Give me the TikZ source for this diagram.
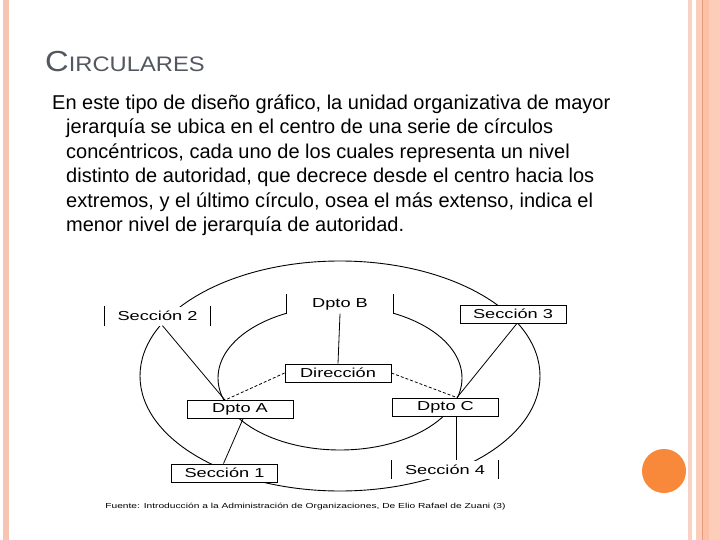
\documentclass[tikz,border=0pt]{standalone}
\usepackage{fontspec}
\setmainfont{Liberation Sans}
\newfontfamily\orgfont[FakeStretch=1.4]{Liberation Sans}
\newfontfamily\titfont[FakeStretch=1.13]{Liberation Sans}
\usetikzlibrary{positioning}

\definecolor{franja}{HTML}{F7C4B2}
\definecolor{franjaclara}{HTML}{F9D2C3}
\definecolor{melocoton}{HTML}{FCCDB9}
\definecolor{melocotonb}{HTML}{FDBFA6}
\definecolor{lineaoscura}{HTML}{E39E80}
\definecolor{naranja}{HTML}{F8883A}
\definecolor{titulo}{HTML}{53575F}

\begin{document}
\begin{tikzpicture}[x=1pt,y=-1pt,
    caja/.style={draw, fill=white, line width=0.8pt, inner sep=0pt,
        minimum width=106pt, minimum height=18pt,
        font=\orgfont\fontsize{13}{13}\selectfont},
    corchete/.style={fill=white, inner sep=0pt,
        minimum width=106pt, minimum height=19pt,
        font=\orgfont\fontsize{13}{13}\selectfont},
    enlace/.style={line width=0.8pt},
    punteado/.style={line width=0.8pt, dash pattern=on 3pt off 2pt},
    anillo/.style={line width=0.9pt}]

    \useasboundingbox (0,0) rectangle (720,540);
    \fill[white] (0,0) rectangle (720,540);

    % franjas de los bordes
    \fill[franja] (3,0) rectangle (9,540);
    \fill[franjaclara] (688,0) rectangle (692,540);
    \fill[melocoton] (696,0) rectangle (720,540);
    \fill[melocotonb] (703,0) rectangle (709,540);
    \fill[lineaoscura] (701.8,0) rectangle (703,540);
    \fill[naranja] (664,471) circle (22);

    % titulo y texto
    \node[anchor=base west, text=titulo, inner sep=0pt, font=\titfont] (titulo) at (45,72)
        {\fontsize{29}{29}\selectfont C\fontsize{21}{21}\selectfont IRCULARES};
    \node[anchor=north west, align=left, inner sep=0pt,
        font=\fontsize{20}{24.5}\selectfont] (texto) at (52,94.5)
        {En este tipo de diseño gráfico, la unidad organizativa de mayor\\
        \hspace*{14pt}jerarquía se ubica en el centro de una serie de círculos\\
        \hspace*{14pt}concéntricos, cada uno de los cuales representa un nivel\\
        \hspace*{14pt}distinto de autoridad, que decrece desde el centro hacia los\\
        \hspace*{14pt}extremos, y el último círculo, osea el más extenso, indica el\\
        \hspace*{14pt}menor nivel de jerarquía de autoridad.};

    % circulos
    \draw[anillo] (340,376) ellipse [x radius=200, y radius=115];
    \draw[anillo] (340,378) ellipse [x radius=122, y radius=72];

    % unidades
    \node[corchete] (s2) at (157.5,316) {Sección 2};
    \node[corchete] (dptob) at (340,304) {Dpto B};
    \node[caja] (s3) at (513,314) {Sección 3};
    \node[caja] (dir) at (338,373) {Dirección};
    \node[caja] (dptoa) at (240,409.5) {Dpto A};
    \node[caja] (dptoc) at (445.5,407) {Dpto C};
    \node[caja] (s1) at (224.5,473) {Sección 1};
    \node[corchete, minimum height=18pt] (s4) at (445,469.5) {Sección 4};

    \draw[enlace] (s2.north west) -- (s2.south west);
    \draw[enlace] (s2.north east) -- (s2.south east);
    \draw[enlace] (dptob.north west) -- (dptob.south west);
    \draw[enlace] (dptob.north east) -- (dptob.south east);
    \draw[enlace] (s4.north west) -- (s4.south west);
    \draw[enlace] (s4.north east) -- (s4.south east);

    % enlaces
    \draw[enlace] (dptob.south) -- (dir.north);
    \draw[punteado] (dir.west) -- ([xshift=-15pt]dptoa.north);
    \draw[punteado] (dir.east) -- ([xshift=11.5pt]dptoc.north);
    \draw[enlace] ([xshift=5pt]s2.south) -- ([xshift=-15pt]dptoa.north);
    \draw[enlace] ([xshift=4pt]s3.south) -- ([xshift=11.5pt]dptoc.north);
    \draw[enlace] ([xshift=3pt]dptoa.south) -- ([xshift=-1pt]s1.north);
    \draw[enlace] ([xshift=10.5pt]dptoc.south) -- ([xshift=11pt]s4.north);

    \node[font=\orgfont\fontsize{7.3}{7.3}\selectfont, inner sep=0pt] (fuente) at (305.5,507)
        {Fuente: Introducción a la Administración de Organizaciones, De Elio Rafael de Zuani (3)};
\end{tikzpicture}
\end{document}
